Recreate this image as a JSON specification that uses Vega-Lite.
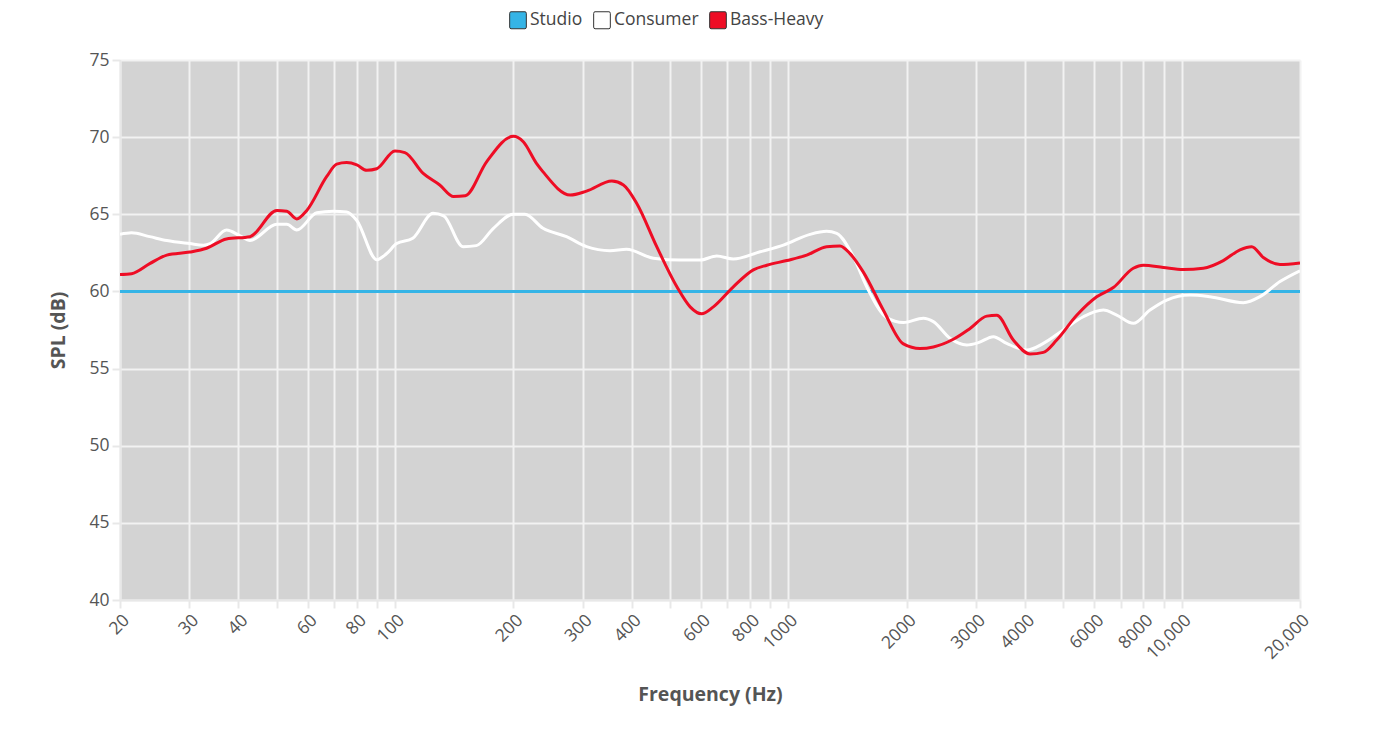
{
  "$schema": "https://vega.github.io/schema/vega-lite/v6.json",
  "width": 1180,
  "height": 540,
  "autosize": {"type": "none"},
  "padding": {"left": 120, "top": 60, "right": 75, "bottom": 143},
  "background": "#ffffff",
  "data": {
    "values": [
      {"series":"Studio","freq":20,"spl":60},
      {"series":"Studio","freq":20000,"spl":60},
      {"series":"Consumer","freq":20,"spl":63.7},
      {"series":"Consumer","freq":21.4,"spl":63.8},
      {"series":"Consumer","freq":23.8,"spl":63.55},
      {"series":"Consumer","freq":26.3,"spl":63.3},
      {"series":"Consumer","freq":30.1,"spl":63.1},
      {"series":"Consumer","freq":32.6,"spl":63.0},
      {"series":"Consumer","freq":33.9,"spl":63.1},
      {"series":"Consumer","freq":37.3,"spl":63.98},
      {"series":"Consumer","freq":40.4,"spl":63.6},
      {"series":"Consumer","freq":42.8,"spl":63.3},
      {"series":"Consumer","freq":50.1,"spl":64.35},
      {"series":"Consumer","freq":53.1,"spl":64.35},
      {"series":"Consumer","freq":56.3,"spl":63.98},
      {"series":"Consumer","freq":63.3,"spl":65.1},
      {"series":"Consumer","freq":69.7,"spl":65.2},
      {"series":"Consumer","freq":75.4,"spl":65.15},
      {"series":"Consumer","freq":80,"spl":64.6},
      {"series":"Consumer","freq":89.9,"spl":62.06},
      {"series":"Consumer","freq":95.3,"spl":62.46},
      {"series":"Consumer","freq":101,"spl":63.1},
      {"series":"Consumer","freq":111,"spl":63.44},
      {"series":"Consumer","freq":125,"spl":65.06},
      {"series":"Consumer","freq":133,"spl":64.9},
      {"series":"Consumer","freq":149,"spl":62.9},
      {"series":"Consumer","freq":161,"spl":62.97},
      {"series":"Consumer","freq":178,"spl":64.09},
      {"series":"Consumer","freq":200,"spl":65.0},
      {"series":"Consumer","freq":214,"spl":65.0},
      {"series":"Consumer","freq":238,"spl":64.09},
      {"series":"Consumer","freq":273,"spl":63.55},
      {"series":"Consumer","freq":307,"spl":62.9},
      {"series":"Consumer","freq":352,"spl":62.64},
      {"series":"Consumer","freq":388,"spl":62.73},
      {"series":"Consumer","freq":454,"spl":62.15},
      {"series":"Consumer","freq":531,"spl":62.03},
      {"series":"Consumer","freq":597,"spl":62.03},
      {"series":"Consumer","freq":658,"spl":62.3},
      {"series":"Consumer","freq":725,"spl":62.1},
      {"series":"Consumer","freq":848,"spl":62.57},
      {"series":"Consumer","freq":972,"spl":63.0},
      {"series":"Consumer","freq":1136,"spl":63.7},
      {"series":"Consumer","freq":1252,"spl":63.9},
      {"series":"Consumer","freq":1328,"spl":63.76},
      {"series":"Consumer","freq":1464,"spl":62.25},
      {"series":"Consumer","freq":1583,"spl":60.3},
      {"series":"Consumer","freq":1779,"spl":58.3},
      {"series":"Consumer","freq":1962,"spl":57.98},
      {"series":"Consumer","freq":2205,"spl":58.26},
      {"series":"Consumer","freq":2338,"spl":58.04},
      {"series":"Consumer","freq":2578,"spl":56.96},
      {"series":"Consumer","freq":2842,"spl":56.53},
      {"series":"Consumer","freq":3043,"spl":56.68},
      {"series":"Consumer","freq":3322,"spl":57.07},
      {"series":"Consumer","freq":3592,"spl":56.63},
      {"series":"Consumer","freq":4039,"spl":56.2},
      {"series":"Consumer","freq":4452,"spl":56.63},
      {"series":"Consumer","freq":5004,"spl":57.5},
      {"series":"Consumer","freq":5626,"spl":58.36},
      {"series":"Consumer","freq":6324,"spl":58.79},
      {"series":"Consumer","freq":6840,"spl":58.47},
      {"series":"Consumer","freq":7537,"spl":57.93},
      {"series":"Consumer","freq":8312,"spl":58.79},
      {"series":"Consumer","freq":9166,"spl":59.44},
      {"series":"Consumer","freq":10506,"spl":59.77},
      {"series":"Consumer","freq":11808,"spl":59.66},
      {"series":"Consumer","freq":14350,"spl":59.27},
      {"series":"Consumer","freq":15826,"spl":59.66},
      {"series":"Consumer","freq":17790,"spl":60.64},
      {"series":"Consumer","freq":20000,"spl":61.34},
      {"series":"Bass-Heavy","freq":20,"spl":61.1},
      {"series":"Bass-Heavy","freq":21.4,"spl":61.15},
      {"series":"Bass-Heavy","freq":23.8,"spl":61.8},
      {"series":"Bass-Heavy","freq":26.3,"spl":62.35},
      {"series":"Bass-Heavy","freq":30.1,"spl":62.55},
      {"series":"Bass-Heavy","freq":33.2,"spl":62.8},
      {"series":"Bass-Heavy","freq":37.3,"spl":63.4},
      {"series":"Bass-Heavy","freq":42.8,"spl":63.55},
      {"series":"Bass-Heavy","freq":50.1,"spl":65.25},
      {"series":"Bass-Heavy","freq":53.1,"spl":65.2},
      {"series":"Bass-Heavy","freq":56.3,"spl":64.7},
      {"series":"Bass-Heavy","freq":59.7,"spl":65.25},
      {"series":"Bass-Heavy","freq":67.1,"spl":67.45},
      {"series":"Bass-Heavy","freq":71.1,"spl":68.25},
      {"series":"Bass-Heavy","freq":75.4,"spl":68.35},
      {"series":"Bass-Heavy","freq":80,"spl":68.2},
      {"series":"Bass-Heavy","freq":84.8,"spl":67.85},
      {"series":"Bass-Heavy","freq":89.9,"spl":67.95},
      {"series":"Bass-Heavy","freq":100,"spl":69.1},
      {"series":"Bass-Heavy","freq":106,"spl":69.0},
      {"series":"Bass-Heavy","freq":118,"spl":67.65},
      {"series":"Bass-Heavy","freq":130,"spl":66.9},
      {"series":"Bass-Heavy","freq":141,"spl":66.15},
      {"series":"Bass-Heavy","freq":151,"spl":66.2},
      {"series":"Bass-Heavy","freq":171,"spl":68.4},
      {"series":"Bass-Heavy","freq":200,"spl":70.05},
      {"series":"Bass-Heavy","freq":212,"spl":69.7},
      {"series":"Bass-Heavy","freq":229,"spl":68.3},
      {"series":"Bass-Heavy","freq":238,"spl":67.75},
      {"series":"Bass-Heavy","freq":279,"spl":66.25},
      {"series":"Bass-Heavy","freq":307,"spl":66.5},
      {"series":"Bass-Heavy","freq":356,"spl":67.15},
      {"series":"Bass-Heavy","freq":381,"spl":66.9},
      {"series":"Bass-Heavy","freq":412,"spl":65.7},
      {"series":"Bass-Heavy","freq":463,"spl":62.9},
      {"series":"Bass-Heavy","freq":521,"spl":60.3},
      {"series":"Bass-Heavy","freq":563,"spl":59.0},
      {"series":"Bass-Heavy","freq":602,"spl":58.55},
      {"series":"Bass-Heavy","freq":645,"spl":59.0},
      {"series":"Bass-Heavy","freq":725,"spl":60.3},
      {"series":"Bass-Heavy","freq":815,"spl":61.4},
      {"series":"Bass-Heavy","freq":882,"spl":61.7},
      {"series":"Bass-Heavy","freq":991,"spl":62.0},
      {"series":"Bass-Heavy","freq":1114,"spl":62.35},
      {"series":"Bass-Heavy","freq":1252,"spl":62.9},
      {"series":"Bass-Heavy","freq":1354,"spl":62.95},
      {"series":"Bass-Heavy","freq":1436,"spl":62.45},
      {"series":"Bass-Heavy","freq":1552,"spl":61.25},
      {"series":"Bass-Heavy","freq":1744,"spl":58.8},
      {"series":"Bass-Heavy","freq":1962,"spl":56.6},
      {"series":"Bass-Heavy","freq":2162,"spl":56.3},
      {"series":"Bass-Heavy","freq":2338,"spl":56.4},
      {"series":"Bass-Heavy","freq":2628,"spl":56.9},
      {"series":"Bass-Heavy","freq":2898,"spl":57.6},
      {"series":"Bass-Heavy","freq":3197,"spl":58.4},
      {"series":"Bass-Heavy","freq":3388,"spl":58.45},
      {"series":"Bass-Heavy","freq":3734,"spl":56.85},
      {"series":"Bass-Heavy","freq":4118,"spl":55.95},
      {"series":"Bass-Heavy","freq":4452,"spl":56.05},
      {"series":"Bass-Heavy","freq":4814,"spl":56.85},
      {"series":"Bass-Heavy","freq":5412,"spl":58.45},
      {"series":"Bass-Heavy","freq":6084,"spl":59.65},
      {"series":"Bass-Heavy","freq":6706,"spl":60.25},
      {"series":"Bass-Heavy","freq":7537,"spl":61.5},
      {"series":"Bass-Heavy","freq":7993,"spl":61.7},
      {"series":"Bass-Heavy","freq":8986,"spl":61.55},
      {"series":"Bass-Heavy","freq":10102,"spl":61.42},
      {"series":"Bass-Heavy","freq":11354,"spl":61.5},
      {"series":"Bass-Heavy","freq":12764,"spl":62.0},
      {"series":"Bass-Heavy","freq":14076,"spl":62.7},
      {"series":"Bass-Heavy","freq":15074,"spl":62.9},
      {"series":"Bass-Heavy","freq":16136,"spl":62.2},
      {"series":"Bass-Heavy","freq":17790,"spl":61.75},
      {"series":"Bass-Heavy","freq":20000,"spl":61.85}
    ]
  },
  "encoding": {
    "x": {
      "field": "freq",
      "type": "quantitative",
      "scale": {"type": "log", "domain": [20, 20000], "nice": false},
      "axis": {
        "title": "Frequency (Hz)",
        "values": [20,30,40,50,60,70,80,90,100,200,300,400,500,600,700,800,900,1000,2000,3000,4000,5000,6000,7000,8000,9000,10000,20000],
        "labelExpr": "indexof([50,70,90,500,700,900,5000,7000,9000], datum.value) >= 0 ? '' : (datum.value >= 10000 ? format(datum.value, ',') : format(datum.value, 'd'))",
        "labelAngle": -45,
        "labelOverlap": false,
        "labelPadding": 3,
        "titlePadding": 24
      }
    },
    "y": {
      "field": "spl",
      "type": "quantitative",
      "scale": {"domain": [40, 75], "nice": false, "zero": false},
      "axis": {
        "title": "SPL (dB)",
        "values": [40,45,50,55,60,65,70,75],
        "labelPadding": 3,
        "titlePadding": 20
      }
    }
  },
  "layer": [
    {
      "mark": {"type": "line", "interpolate": "monotone", "strokeWidth": 3, "clip": true},
      "encoding": {
        "color": {
          "field": "series",
          "type": "nominal",
          "scale": {"domain": ["Bass-Heavy", "Consumer", "Studio"], "range": ["#ee0d25", "#ffffff", "#35b4e6"]},
          "legend": null
        },
        "detail": {"field": "series"}
      }
    },
    {
      "transform": [{"filter": "datum.freq < 0"}],
      "mark": {"type": "square", "filled": true},
      "encoding": {
        "fill": {
          "field": "series",
          "type": "nominal",
          "scale": {"domain": ["Studio", "Consumer", "Bass-Heavy"], "range": ["#35b4e6", "#ffffff", "#ee0d25"]},
          "legend": {
            "title": null,
            "orient": "none",
            "direction": "horizontal",
            "legendX": 389,
            "legendY": -49,
            "symbolType": "M-0.82,-1 L0.82,-1 Q0.98,-1 0.98,-0.8 L0.98,0.8 Q0.98,1 0.82,1 L-0.82,1 Q-0.98,1 -0.98,0.8 L-0.98,-0.8 Q-0.98,-1 -0.82,-1 Z",
            "symbolSize": 289,
            "symbolStrokeColor": "#333333",
            "symbolStrokeWidth": 1,
            "symbolOpacity": 1,
            "labelFontSize": 17.5,
            "labelColor": "#444444",
            "labelOffset": 3,
            "columnPadding": 8
          }
        }
      }
    }
  ],
  "config": {
    "font": "Open Sans",
    "view": {"fill": "#d3d3d3", "stroke": null},
    "axis": {
      "grid": true,
      "gridColor": "#f2f2f2",
      "gridWidth": 2,
      "gridOpacity": 1,
      "domainColor": "#e8e8e8",
      "domainWidth": 2,
      "tickColor": "#e8e8e8",
      "tickWidth": 2,
      "tickSize": 8,
      "labelFontSize": 17.5,
      "labelColor": "#555555",
      "titleFontSize": 19.5,
      "titleFontWeight": "bold",
      "titleColor": "#555555"
    }
  }
}
